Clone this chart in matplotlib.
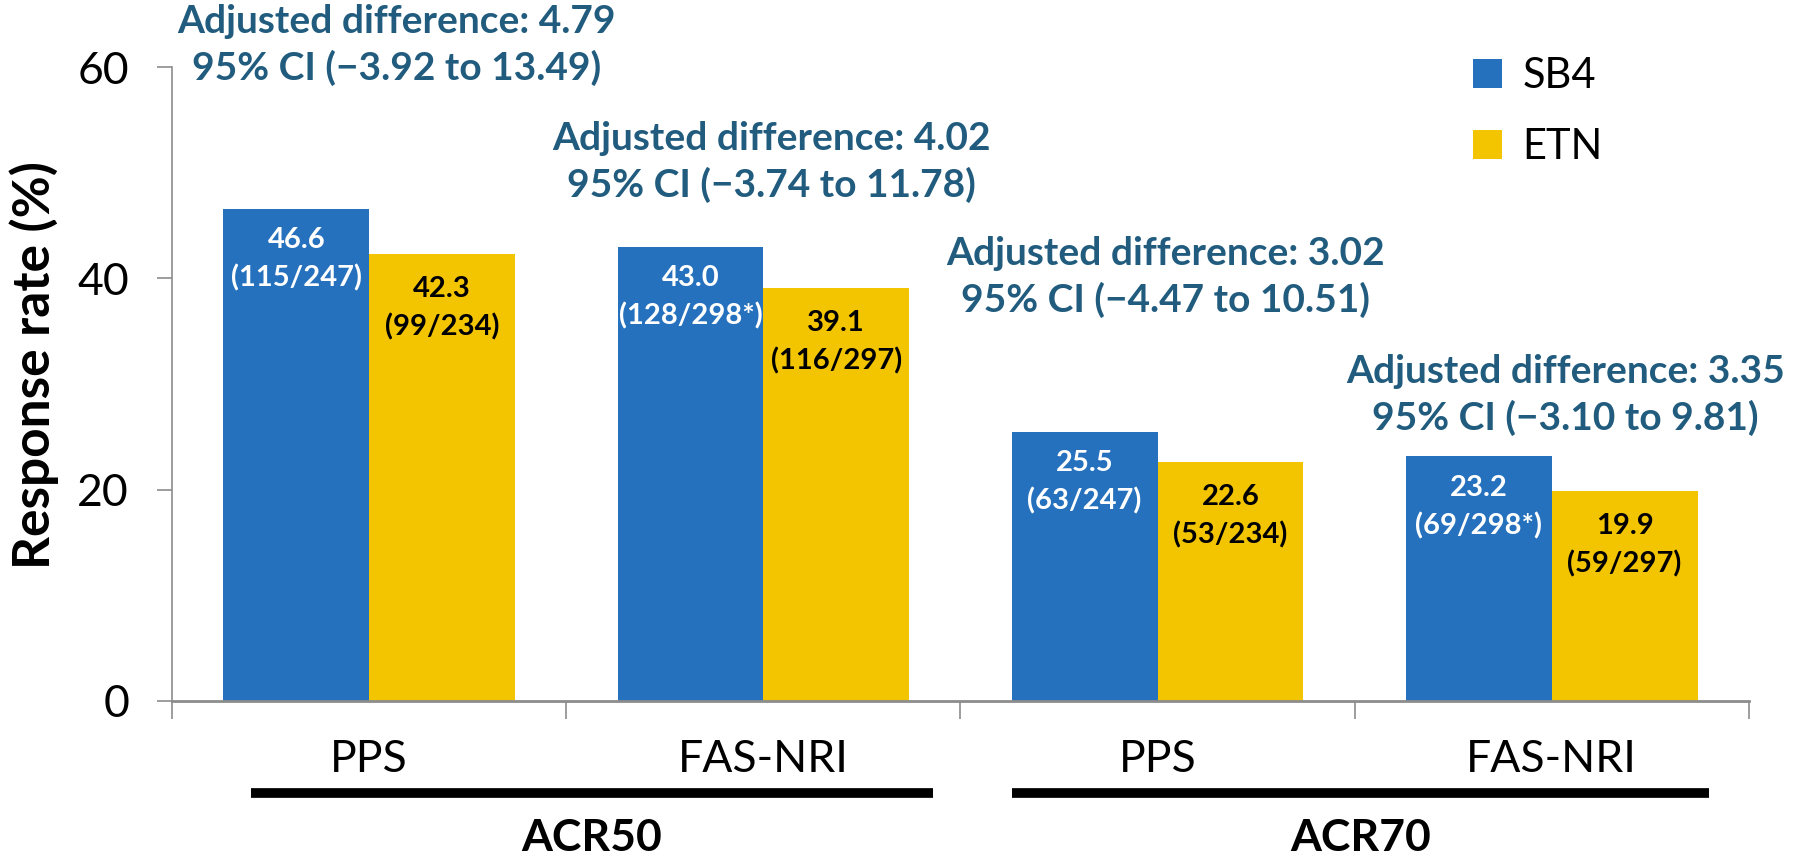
import numpy as np
import matplotlib
matplotlib.use("Agg")
from matplotlib import pyplot as plt
import matplotlib.transforms as mtransforms

plt.rcParams['font.family'] = ['Lato', 'DejaVu Sans']

# Data
categories = ['PPS', 'FAS-NRI', 'PPS', 'FAS-NRI']
groups = ['ACR50', 'ACR70']
sb4 = [46.6, 43.0, 25.5, 23.2]
etn = [42.3, 39.1, 22.6, 19.9]
sb4_counts = ['(115/247)', '(128/298*)', '(63/247)', '(69/298*)']
etn_counts = ['(99/234)', '(116/297)', '(53/234)', '(59/297)']
adj_diff = ['4.79', '4.02', '3.02', '3.35']
ci_text = ['\u22123.92 to 13.49', '\u22123.74 to 11.78', '\u22124.47 to 10.51', '\u22123.10 to 9.81']

blue = '#2671BD'
yellow = '#F2C500'
teal = '#215C7E'
gray = '#8C8C8C'

fig = plt.figure(figsize=(18.02, 8.6), dpi=100)
ax = fig.add_axes([0.0955, 0.185, 0.875, 0.737])

x = np.arange(len(categories))
w = 0.37
ax.bar(x - w / 2, sb4, w, color=blue, label='SB4')
ax.bar(x + w / 2, etn, w, color=yellow, label='ETN')

# bar labels, two lines inside the top of each bar
for i in range(len(x)):
    ax.text(x[i] - w / 2, sb4[i] - 3.0, f'{sb4[i]:.1f}', ha='center', va='center',
            color='white', fontsize=21, fontweight='bold')
    ax.text(x[i] - w / 2, sb4[i] - 6.6, sb4_counts[i], ha='center', va='center',
            color='white', fontsize=21, fontweight='bold')
    ax.text(x[i] + w / 2, etn[i] - 3.3, f'{etn[i]:.1f}', ha='center', va='center',
            color='black', fontsize=21, fontweight='bold')
    ax.text(x[i] + w / 2, etn[i] - 6.9, etn_counts[i], ha='center', va='center',
            color='black', fontsize=21, fontweight='bold')

# adjusted difference annotations
ann_x = [0.07, 1.02, 2.02, 3.035]
ann_y = [62.1, 51.0, 40.2, 29.0]
for i in range(len(x)):
    ax.text(ann_x[i], ann_y[i] + 2.2, f'Adjusted difference: {adj_diff[i]}',
            ha='center', va='center', color=teal, fontsize=28, fontweight='bold', clip_on=False)
    ax.text(ann_x[i], ann_y[i] - 2.2, f'95% CI ({ci_text[i]})',
            ha='center', va='center', color=teal, fontsize=28, fontweight='bold', clip_on=False)

ax.set_ylim(0, 60)
ax.set_xlim(-0.5, 3.5)
ax.set_yticks([0, 20, 40, 60])
ax.tick_params(axis='y', labelsize=32, length=11, width=1.2, color=gray, pad=20)
ax.set_xticks(np.arange(-0.5, 4.0, 1.0))
ax.set_xticklabels([])
ax.tick_params(axis='x', length=13, width=1.2, color=gray)
ax.set_ylabel('Response rate (%)', fontsize=37, fontweight='bold')
ax.yaxis.set_label_coords(-0.072, 0.53)
for s in ['top', 'right']:
    ax.spines[s].set_visible(False)
ax.spines['left'].set_color(gray)
ax.spines['bottom'].set_color(gray)
ax.spines['left'].set_linewidth(1.2)
ax.spines['bottom'].set_linewidth(2)

trans = mtransforms.blended_transform_factory(ax.transData, ax.transAxes)
for i, c in enumerate(categories):
    ax.text(x[i], -0.092, c, transform=trans, ha='center', va='center', fontsize=32)

group_spans = [(-0.30, 1.43), (1.63, 3.40)]
for g, (a, b) in zip(groups, group_spans):
    ax.plot([a, b], [-0.145, -0.145], transform=trans, color='black', lw=7, clip_on=False,
            solid_capstyle='butt')
    ax.text((a + b) / 2, -0.217, g, transform=trans, ha='center', va='center',
            fontsize=32, fontweight='bold')

ax.legend(loc='upper left', bbox_to_anchor=(0.801, 1.075), frameon=False, fontsize=30,
          handlelength=0.7, handleheight=0.7, handletextpad=0.5, labelspacing=0.8)

fig.savefig('out.png', dpi=100)
